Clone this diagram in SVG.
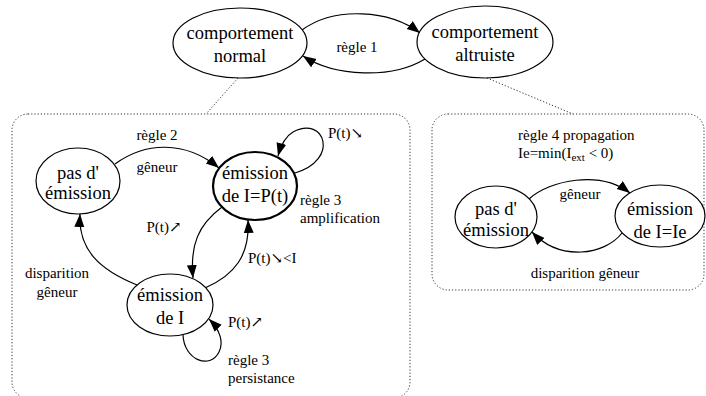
<svg xmlns="http://www.w3.org/2000/svg" width="706" height="396" viewBox="0 0 706 396">
<defs>
<style>
text{font-family:"Liberation Serif","DejaVu Serif",serif;fill:#000}
.n{font-size:18.5px;text-anchor:middle}
.l{font-size:15px}
.m{text-anchor:middle}
ellipse{fill:#fff;stroke:#000;stroke-width:1.2}
.bold{stroke-width:2.2}
.e{fill:none;stroke:#000;stroke-width:1.2;marker-end:url(#ah)}
.box{fill:none;stroke:#333;stroke-width:1;stroke-dasharray:1.2 2}
</style>
<marker id="ah" markerUnits="userSpaceOnUse" markerWidth="14" markerHeight="12" refX="13" refY="5" orient="auto">
<path d="M0,0 L13,5 L0,10 Z" fill="#000"/>
</marker>
</defs>
<rect width="706" height="396" fill="#fff"/>
<g id="boxes">
<rect class="box" x="12" y="114" width="398" height="284" rx="16"/>
<rect class="box" x="432" y="114" width="272" height="176" rx="16"/>
<line class="box" x1="238" y1="78" x2="206" y2="114"/>
<line class="box" x1="487" y1="78" x2="573" y2="114"/>
</g>
<g id="connectors">
<path class="e" d="M302 30 C335 6,390 10,420 33"/>
<path class="e" d="M425 59 C392 79,335 77,303 56"/>
<path class="e" d="M115 164 C145 142,185 140,219 168"/>
<path class="e" d="M222 207 C198 225,190 245,193 278"/>
<path class="e" d="M205 288 C235 275,250 255,248 220"/>
<path class="e" d="M137 285 C100 270,78 250,80 214"/>
<path class="e" d="M295 173 C340 160,325 115,293 132 C286 136,281 145,278 156"/>
<path class="e" d="M183 335 C184 360,210 370,219 352 C224 342,220 330,209 319"/>
<path class="e" d="M529 199 C550 180,600 170,630 193"/>
<path class="e" d="M622 233 C605 255,560 262,532 232"/>
</g>
<g id="labels" class="l">
<text class="m" x="357" y="52">règle 1</text>
<text class="m" x="157" y="140">règle 2</text>
<text class="m" x="157" y="172">gêneur</text>
<text x="328" y="138">P(t)↘</text>
<text x="300" y="205">règle 3</text>
<text x="300" y="223">amplification</text>
<text class="m" x="164" y="232">P(t)↗</text>
<text x="248" y="263">P(t)↘&lt;I</text>
<text class="m" x="57" y="278">disparition</text>
<text class="m" x="57" y="297">gêneur</text>
<text x="228" y="327">P(t)↗</text>
<text x="228" y="365">règle 3</text>
<text x="228" y="383">persistance</text>
<text x="518" y="140">règle 4 propagation</text>
<text x="518" y="158">Ie=min(I<tspan font-size="11" dy="3">ext</tspan><tspan dy="-3"> &lt; 0)</tspan></text>
<text class="m" x="580" y="199">gêneur</text>
<text class="m" x="585" y="278">disparition gêneur</text>
</g>
<g id="normal">
<ellipse cx="240" cy="43" rx="67" ry="35"/>
<text class="n" x="240" y="39">comportement</text>
<text class="n" x="240" y="62">normal</text>
</g>
<g id="altruiste">
<ellipse cx="485" cy="42" rx="68" ry="36"/>
<text class="n" x="485" y="38">comportement</text>
<text class="n" x="485" y="61">altruiste</text>
</g>
<g id="pas_emission">
<ellipse cx="78" cy="181" rx="42" ry="33"/>
<text class="n" x="78" y="179">pas d'</text>
<text class="n" x="78" y="199">émission</text>
</g>
<g id="emission_P">
<ellipse class="bold" cx="255" cy="186" rx="42" ry="34"/>
<text class="n" x="255" y="179">émission</text>
<text class="n" x="255" y="202">de I=P(t)</text>
</g>
<g id="emission_I">
<ellipse cx="170" cy="305" rx="43" ry="31"/>
<text class="n" x="170" y="301">émission</text>
<text class="n" x="170" y="324">de I</text>
</g>
<g id="pas_emission2">
<ellipse cx="496" cy="217" rx="41" ry="31"/>
<text class="n" x="496" y="215">pas d'</text>
<text class="n" x="496" y="236">émission</text>
</g>
<g id="emission_Ie">
<ellipse cx="660" cy="216" rx="45" ry="31"/>
<text class="n" x="660" y="215">émission</text>
<text class="n" x="660" y="238">de I=Ie</text>
</g>
</svg>
